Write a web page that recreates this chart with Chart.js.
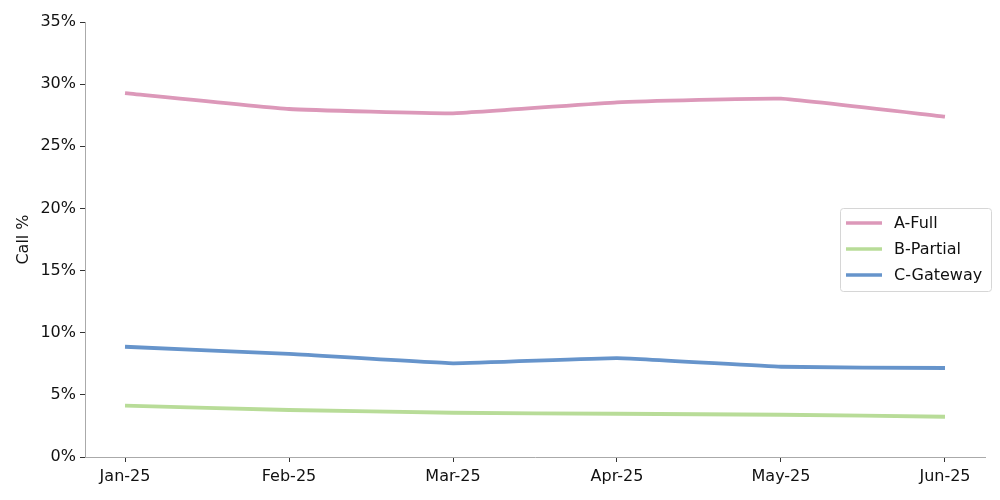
<!DOCTYPE html>
<html><head><meta charset="utf-8">
<script src="https://cdn.jsdelivr.net/npm/chart.js@4"></script>
<style>html,body{margin:0;padding:0;background:#fff}#wrap{width:1000px;height:500px}</style>
</head><body><div id="wrap"><canvas id="c" width="1000" height="500"></canvas></div>
<script>
const months = ["Jan-25","Feb-25","Mar-25","Apr-25","May-25","Jun-25"];
const aFull = [29.28, 28.0, 27.65, 28.54, 28.83, 27.38];
const bPartial = [4.13, 3.78, 3.56, 3.48, 3.40, 3.24];
const cGateway = [8.87, 8.29, 7.54, 7.96, 7.26, 7.16];
const yTicks = [0,5,10,15,20,25,30,35];

const toPts = arr => arr.map((v,i)=>({x:i,y:v}));
const FONT = "'DejaVu Sans', sans-serif";

const legendPlugin = {
  id:'boxLegend',
  afterDraw(chart){
    const ctx = chart.ctx;
    const x0=840.5, y0=208.5, w=151, h=83;
    ctx.save();
    ctx.fillStyle='rgba(255,255,255,0.8)';
    ctx.strokeStyle='#d6d6d6';
    ctx.lineWidth=1;
    const r=3;
    ctx.beginPath();
    ctx.moveTo(x0+r,y0);ctx.lineTo(x0+w-r,y0);ctx.quadraticCurveTo(x0+w,y0,x0+w,y0+r);
    ctx.lineTo(x0+w,y0+h-r);ctx.quadraticCurveTo(x0+w,y0+h,x0+w-r,y0+h);
    ctx.lineTo(x0+r,y0+h);ctx.quadraticCurveTo(x0,y0+h,x0,y0+h-r);
    ctx.lineTo(x0,y0+r);ctx.quadraticCurveTo(x0,y0,x0+r,y0);ctx.closePath();
    ctx.fill();ctx.stroke();
    ctx.font = "16px "+FONT;
    ctx.textBaseline='middle';
    chart.data.datasets.forEach((ds,i)=>{
      const yy = 223 + i*26;
      ctx.strokeStyle = ds.borderColor;
      ctx.lineWidth = 3.5;
      ctx.beginPath();ctx.moveTo(846,yy);ctx.lineTo(882,yy);ctx.stroke();
      ctx.fillStyle='#111';
      ctx.fillText(ds.label, 894, yy+1);
    });
    ctx.restore();
  }
};

new Chart(document.getElementById('c'),{
  type:'line',
  data:{datasets:[
    {label:'A-Full',data:toPts(aFull),borderColor:'#dc98b9',borderWidth:3.8,pointRadius:0,tension:0.1,fill:false},
    {label:'B-Partial',data:toPts(bPartial),borderColor:'#b8dc98',borderWidth:3.8,pointRadius:0,tension:0.1,fill:false},
    {label:'C-Gateway',data:toPts(cGateway),borderColor:'#6694cb',borderWidth:3.8,pointRadius:0,tension:0.1,fill:false}
  ]},
  options:{
    responsive:false,animation:false,
    layout:{padding:{left:0,right:15,top:22,bottom:0}},
    plugins:{legend:{display:false},tooltip:{enabled:false}},
    scales:{
      x:{type:'linear',min:-0.244,max:5.244,
        afterBuildTicks(s){s.ticks=months.map((m,i)=>({value:i}));},
        afterFit(s){s.height=43;},
        ticks:{callback:(v)=>months[v],font:{family:FONT,size:16},color:'#111',padding:5,maxRotation:0,autoSkip:false},
        grid:{drawOnChartArea:false,drawTicks:true,tickLength:5,color:'#333'},
        border:{color:'#aaa',width:1}},
      y:{type:'linear',min:0,max:35,
        afterBuildTicks(s){s.ticks=yTicks.map(v=>({value:v}));},
        afterFit(s){s.width=85;},
        ticks:{callback:v=>v+'%',font:{family:FONT,size:16},color:'#111',padding:4},
        title:{display:true,text:'Call %',font:{family:FONT,size:16},color:'#111',padding:{top:14,bottom:0}},
        grid:{drawOnChartArea:false,drawTicks:true,tickLength:5,color:'#333'},
        border:{color:'#aaa',width:1}}
    }
  },
  plugins:[legendPlugin]
});
</script></body></html>
